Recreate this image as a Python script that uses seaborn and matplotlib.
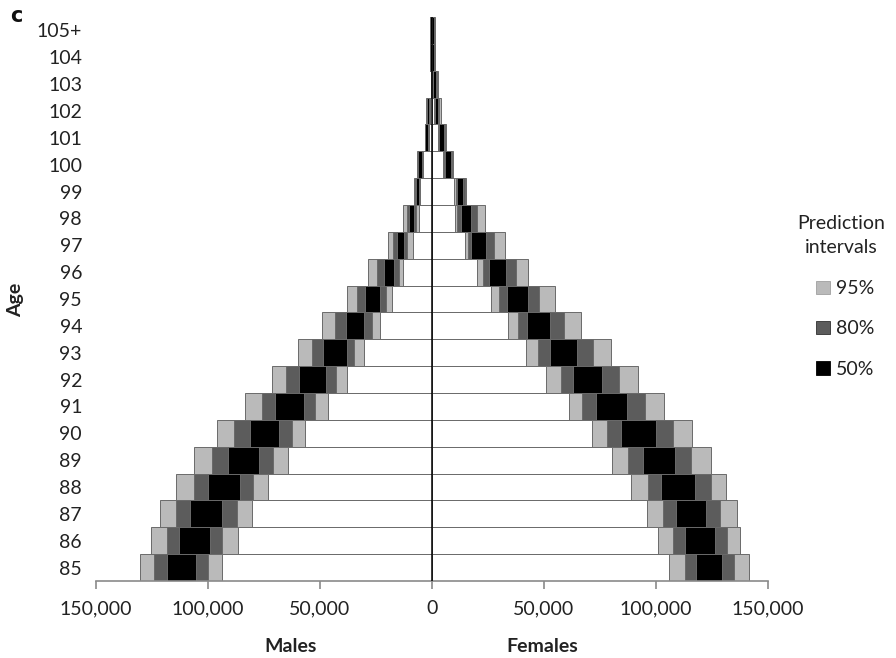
import matplotlib
matplotlib.use("Agg")
import matplotlib.pyplot as plt
from matplotlib.patches import Patch
from matplotlib.ticker import FuncFormatter
import seaborn as sns
import pandas as pd

# ---- data -------------------------------------------------------------
ages = ["85", "86", "87", "88", "89", "90", "91", "92", "93", "94", "95",
        "96", "97", "98", "99", "100", "101", "102", "103", "104", "105+"]

# Males: bounds of prediction intervals (population)
m_lo95 = [93900, 86800, 80500, 73400, 64500, 56500, 46300, 37800, 30300, 23100, 17800,
          12900, 8500, 5800, 5400, 3800, 1400, 800, 50, 100, 100]
m_lo80 = [100100, 93900, 87200, 79700, 71200, 62300, 52100, 42700, 34700, 26700, 20500,
          14700, 11100, 7100, 5700, 4000, 1600, 1000, 80, 150, 150]
m_lo50 = [105500, 99200, 93900, 85900, 77400, 68100, 57000, 47200, 37800, 30300, 23100,
          16900, 12500, 8000, 5900, 4300, 1800, 1200, 100, 200, 200]
m_hi50 = [118400, 113000, 108100, 100100, 91200, 81400, 69900, 59200, 48500, 38300, 29800,
          21400, 15600, 10200, 7000, 6200, 3000, 2100, 300, 700, 700]
m_hi80 = [124200, 118400, 114400, 106400, 98300, 88600, 75700, 65000, 53400, 43200, 33400,
          24500, 17400, 11100, 7500, 6400, 3100, 2300, 350, 750, 750]
m_hi95 = [130400, 125500, 121500, 114400, 106400, 96100, 83700, 71600, 59600, 48900, 37800,
          28500, 19600, 12900, 8000, 6700, 3300, 2500, 400, 800, 800]

# Females
f_lo95 = [106000, 100800, 95900, 88900, 80500, 71500, 61000, 51000, 41800, 33900, 26500,
          20100, 14600, 10100, 9800, 4900, 2700, 1000, 300, 100, 100]
f_lo80 = [113100, 107800, 103000, 96500, 87400, 78200, 67100, 57400, 47500, 38400, 29900,
          22700, 16100, 11200, 10600, 5300, 2900, 1100, 350, 150, 150]
f_lo50 = [117900, 113000, 109000, 102400, 94100, 84500, 73300, 62900, 52500, 42500, 33500,
          25400, 17600, 13100, 11300, 5700, 3100, 1200, 400, 200, 200]
f_hi50 = [129500, 126400, 122400, 117200, 108700, 100100, 87000, 75800, 64900, 52500, 42800,
          33200, 24000, 17600, 13800, 8600, 5200, 2900, 1800, 1100, 1000]
f_hi80 = [135000, 131600, 128600, 124600, 115700, 107500, 94900, 83700, 71800, 58900, 47700,
          37300, 27500, 20100, 14700, 9000, 5800, 3300, 2100, 1200, 1100]
f_hi95 = [141400, 137700, 136200, 131300, 124600, 116100, 103500, 91900, 80000, 66600, 54700,
          42800, 32400, 23500, 15300, 9400, 6400, 3800, 2600, 1300, 1200]

legend_labels = ["95%", "80%", "50%"]
xticks = [-150000, -100000, -50000, 0, 50000, 100000, 150000]

# ---- style ------------------------------------------------------------
sns.set_style("white")
plt.rcParams["font.family"] = ["Lato", "DejaVu Sans"]

LIGHT = "#bababa"
DARK = "#5c5c5c"
BLACK = "#000000"
WHITE = "#ffffff"
EDGE = "#6a6a6a"

fig = plt.figure(figsize=(8.96, 6.58), dpi=100)
ax = fig.add_axes([96 / 896, 77 / 658, 672 / 896, (581 - 17) / 658])

order = ages[::-1]  # 105+ at top

layers = [
    (m_hi95, f_hi95, LIGHT),
    (m_hi80, f_hi80, DARK),
    (m_hi50, f_hi50, BLACK),
    (m_lo50, f_lo50, DARK),
    (m_lo80, f_lo80, LIGHT),
    (m_lo95, f_lo95, WHITE),
]

for mvals, fvals, col in layers:
    for vals, sign in ((mvals, -1), (fvals, 1)):
        df = pd.DataFrame({"age": ages, "value": [sign * v for v in vals]})
        sns.barplot(data=df, x="value", y="age", order=order, orient="h",
                    color=col, saturation=1, width=1.0, errorbar=None,
                    edgecolor=EDGE, linewidth=0.7, ax=ax)

ax.axvline(0, color="black", lw=1.1, zorder=10)

ax.set_xlim(-150000, 150000)
ax.set_xticks(xticks)
ax.xaxis.set_major_formatter(FuncFormatter(lambda v, p: f"{abs(int(v)):,}"))
ax.set_xlabel("")
ax.set_ylabel("")

for s in ["top", "right", "left"]:
    ax.spines[s].set_visible(False)
ax.spines["bottom"].set_color("#8a8a8a")
ax.spines["bottom"].set_linewidth(1.2)
ax.tick_params(axis="x", which="major", bottom=True, length=6, width=1.2,
               color="#8a8a8a", labelsize=14, pad=8, labelcolor="#222222")
ax.tick_params(axis="y", length=0, labelsize=14, pad=10, labelcolor="#222222")

# axis titles
fig.text(291 / 896, 1 - 647 / 658, "Males", ha="center", va="center",
         fontsize=14, fontweight="bold", color="#222222")
fig.text(542 / 896, 1 - 647 / 658, "Females", ha="center", va="center",
         fontsize=14, fontweight="bold", color="#222222")
fig.text(16 / 896, 1 - 300 / 658, "Age", ha="center", va="center", rotation=90,
         fontsize=14, fontweight="bold", color="#222222")
fig.text(16 / 896, 1 - 16 / 658, "c", ha="center", va="center",
         fontsize=15, fontweight="bold", color="#111111", family="DejaVu Sans")

# legend
fig.text(841 / 896, 1 - 235 / 658, "Prediction\nintervals", ha="center", va="center",
         fontsize=14, color="#222222", linespacing=1.5)
handles = [Patch(facecolor=LIGHT, edgecolor="#a0a0a0", lw=0.6),
           Patch(facecolor=DARK, edgecolor="#303030", lw=0.6),
           Patch(facecolor=BLACK, edgecolor="#000000", lw=0.6)]
fig.legend(handles, legend_labels, loc="center", bbox_to_anchor=(845 / 896, 1 - 329 / 658),
           frameon=False, fontsize=14, handlelength=0.7, handleheight=0.7,
           handletextpad=0.3, labelspacing=1.2, labelcolor="#222222")

fig.savefig("out.png", dpi=100)
